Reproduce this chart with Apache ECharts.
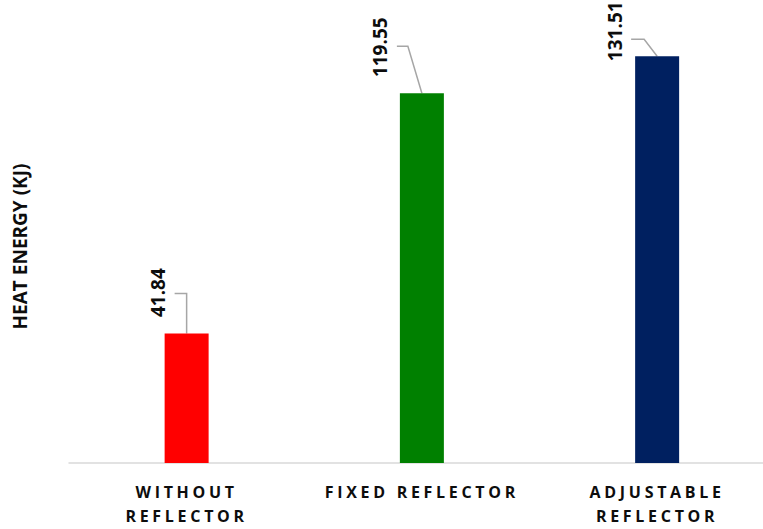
<!DOCTYPE html>
<html>
<head>
<meta charset="utf-8">
<script src="https://cdn.jsdelivr.net/npm/echarts@6/dist/echarts.min.js"></script>
<style>
  html, body { margin: 0; padding: 0; background: #fff; }
  #chart { width: 763px; height: 529px; }
</style>
</head>
<body>
<div id="chart"></div>
<script>
// data
var categories = ['WITHOUT\nREFLECTOR', 'FIXED REFLECTOR', 'ADJUSTABLE\nREFLECTOR']
var heatEnergy = [41.84, 119.55, 131.51]
var barColors = ['#ff0000', '#008000', '#002060']

// leader line layout, px offsets from the top of each bar
var leaderLayout = [
  { elbow: [0, -40], end: [-12, -40], text: [-29, -41] },
  { elbow: [-14, -47], end: [-25, -47], text: [-42, -46] },
  { elbow: [-13, -17], end: [-26, -17], text: [-42, -25] }
]

var FONT = '"Open Sans", "Liberation Sans", sans-serif'

var chart = echarts.init(document.getElementById('chart'), null, { renderer: 'svg' })

// x is a value axis so the plot can run past the right edge like the original
var catIndex = categories.map(function (c, i) { return i })

chart.setOption({
  animation: false,
  backgroundColor: '#fff',
  grid: {
    left: 69,
    right: 0,
    top: 30,
    bottom: 66
  },
  xAxis: {
    type: 'value',
    min: -0.5,
    max: 2.45,
    splitLine: { show: false },
    axisTick: { show: false },
    axisLine: {
      lineStyle: { color: '#d9d9d9', width: 1.5 }
    },
    axisLabel: {
      customValues: catIndex,
      formatter: function (v) { return categories[Math.round(v)] },
      margin: 17,
      color: '#0d0d0d',
      fontFamily: FONT,
      fontWeight: 'bold',
      fontSize: 16,
      lineHeight: 24
    }
  },
  yAxis: {
    type: 'value',
    min: 0,
    max: 140,
    name: 'HEAT ENERGY (KJ)',
    nameLocation: 'middle',
    nameRotate: 90,
    nameGap: 40,
    nameTextStyle: {
      color: '#0d0d0d',
      fontFamily: FONT,
      fontWeight: 'bold',
      fontSize: 19
    },
    axisLine: { show: false },
    axisTick: { show: false },
    axisLabel: { show: false },
    splitLine: { show: false }
  },
  series: [{
    type: 'bar',
    barWidth: 44,
    data: heatEnergy.map(function (v, i) {
      return { value: [i, v], itemStyle: { color: barColors[i] } }
    })
  }, {
    type: 'custom',
    data: heatEnergy.map(function (v, i) { return [i, v] }),
    renderItem: function (params, api) {
      var top = api.coord([api.value(0), api.value(1)])
      var lay = leaderLayout[params.dataIndex]
      var val = heatEnergy[params.dataIndex]
      return {
        type: 'group',
        children: [{
          type: 'polyline',
          shape: {
            points: [
              top,
              [top[0] + lay.elbow[0], top[1] + lay.elbow[1]],
              [top[0] + lay.end[0], top[1] + lay.end[1]]
            ]
          },
          style: { stroke: '#a6a6a6', lineWidth: 1.5, fill: null }
        }, {
          type: 'text',
          x: top[0] + lay.text[0],
          y: top[1] + lay.text[1],
          rotation: Math.PI / 2,
          style: {
            text: val.toFixed(2),
            fill: '#0d0d0d',
            font: 'bold 19px ' + FONT,
            align: 'center',
            verticalAlign: 'middle'
          }
        }]
      }
    }
  }]
})

// spread the category letters like the original
var labelLines = []
categories.forEach(function (c) { labelLines = labelLines.concat(c.split('\n')) })
function spreadLabels () {
  var texts = document.querySelectorAll('#chart text')
  texts.forEach(function (t) {
    if (labelLines.indexOf(t.textContent.trim()) >= 0) {
      t.setAttribute('letter-spacing', '3.7px')
    }
  })
}
chart.on('finished', spreadLabels)
spreadLabels()
</script>
</body>
</html>
